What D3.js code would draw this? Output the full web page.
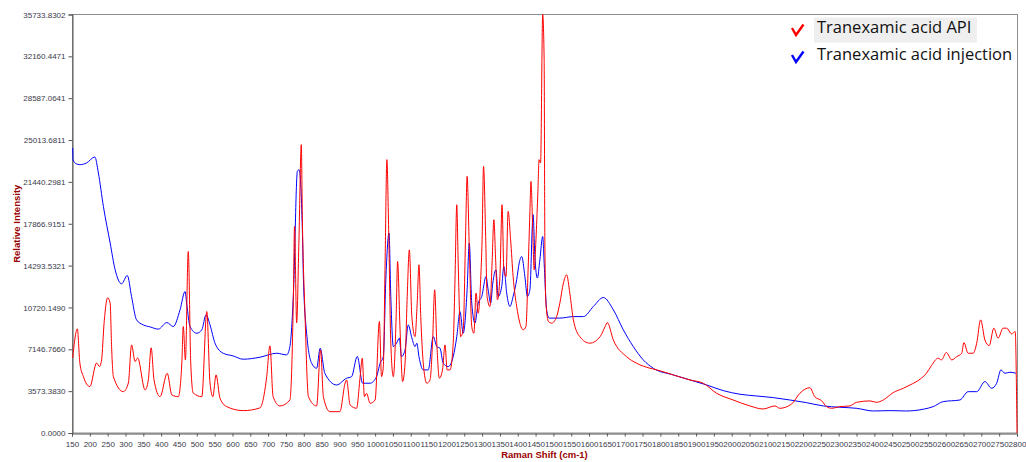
<!DOCTYPE html>
<html>
<head>
  <meta charset="utf-8">
  <title>Raman spectra</title>
  <script src="https://d3js.org/d3.v7.min.js"></script>
  <style>
    body { margin: 0; background: #fff; }
  </style>
</head>
<body>
  <svg width="1026" height="462"></svg>

  <script>
    // Raman shift (cm-1) and intensity for the API sample
    const apiShift = [152,165,172,182,200,219,227,233,240,250,257,261,266,294,308,317,327,334,355,364,372,380,397,417,430,448,458,462,468,476,483,490,514,528,537,545,554,565,584,630,677,696,705,714,733,761,771,774,780,786,793,796,803,813,836,847,855,873,901,916,920,930,948,958,964,970,976,986,1000,1012,1018,1023,1028,1033,1038,1044,1051,1059,1063,1070,1077,1084,1090,1096,1103,1112,1118,1123,1128,1135,1145,1154,1161,1167,1173,1180,1189,1196,1202,1210,1219,1224,1229,1233,1240,1247,1254,1258,1264,1271,1277,1283,1289,1296,1300,1304,1310,1314,1322,1328,1333,1338,1343,1350,1356,1361,1367,1373,1380,1387,1397,1406,1415,1423,1429,1434,1437,1442,1446,1451,1456,1460,1464,1470,1474,1476,1479,1486,1495,1509,1518,1528,1537,1546,1556,1574,1602,1631,1645,1651,1668,1705,1733,1771,1790,1836,1883,1920,1958,2004,2051,2088,2121,2135,2168,2191,2219,2233,2252,2266,2280,2303,2331,2350,2388,2406,2425,2453,2481,2500,2528,2546,2560,2579,2588,2602,2617,2631,2645,2651,2663,2677,2687,2698,2710,2722,2735,2747,2761,2771,2785,2795,2800];
    const apiIntensity = [6410,8890,5980,4810,3960,5980,5670,6240,9400,11540,11090,7380,4810,3530,4270,7520,6100,6410,3680,4530,7270,4530,3100,5100,3250,3100,5980,9090,6240,15500,5980,3420,3100,10370,4270,3100,4960,2970,2250,1910,2140,4810,7440,3100,2310,2820,11940,17640,9400,15930,24620,18210,10520,3100,2310,7100,3100,1820,1820,4270,4530,2390,2110,4810,6390,3100,3390,2540,2820,9520,4810,5670,14510,23340,17350,7670,4810,9940,14640,8810,4390,5960,11650,15640,9940,8230,11090,14360,9940,5960,4250,4530,7670,12230,7670,4680,5390,7520,5390,5390,7670,13080,19490,14510,8230,8810,17350,21910,15930,9090,8520,11940,10230,13080,16500,22770,16780,11650,10800,14510,18210,14790,11370,13360,19490,13930,13360,18920,16500,13360,10800,9380,8810,9090,13930,18780,21480,17350,13930,16500,20200,23340,23060,35730,31890,16220,11090,9520,9380,9940,11090,12800,13510,11940,9660,8230,7670,8230,9090,9430,7950,6520,5960,5530,5390,4960,4530,4250,3390,2820,2310,2050,2310,2110,2480,3390,3870,3100,2760,2250,2110,2250,2310,2620,2740,2620,2820,3450,3820,4100,4590,5100,5750,6390,6240,6870,6240,6520,6810,7720,6810,6810,7670,9660,7950,7460,8950,8100,8950,8950,8460,8660,0];

    // Raman shift (cm-1) and intensity for the injection sample
    const injShift = [152,153,161,172,191,214,224,238,257,271,289,305,317,331,350,369,392,416,434,453,467,472,481,500,514,526,537,551,574,602,630,677,724,752,761,771,782,787,796,799,808,822,836,846,859,892,920,934,950,965,986,1004,1014,1023,1030,1039,1044,1051,1060,1068,1074,1084,1093,1103,1112,1117,1123,1135,1149,1163,1173,1182,1191,1205,1219,1229,1238,1247,1258,1264,1271,1280,1289,1299,1311,1317,1324,1330,1339,1345,1355,1361,1369,1378,1387,1397,1404,1411,1420,1427,1434,1443,1448,1455,1462,1470,1474,1481,1488,1518,1556,1584,1612,1640,1668,1696,1724,1752,1780,1836,1883,1930,1976,2023,2070,2117,2163,2210,2257,2303,2350,2397,2444,2490,2537,2565,2593,2640,2663,2687,2710,2729,2743,2755,2766,2780,2797];
    const injIntensity = [24340,23340,23000,22910,23060,23570,22200,19350,16220,13930,12740,13450,11650,9660,9230,9060,8870,9430,9090,10520,12080,10940,9090,8520,8810,10090,9230,7670,6810,6580,6300,6470,6810,6670,7380,11940,22340,22480,17350,13080,8520,5960,5530,7240,5100,4100,4680,4810,6540,4250,4250,4810,5960,6520,13080,17070,11650,7380,7670,8100,6520,7100,9230,8120,7380,7670,6520,5390,5390,8230,7380,7240,5960,5670,6520,8230,10370,8520,12230,16220,11090,9380,11090,11650,13360,12230,11090,12800,13930,11650,12510,14220,11940,10800,11650,13080,14510,15070,13360,11650,12230,18640,15070,13230,14790,16780,14510,10520,9810,9810,9940,9940,10800,11570,10520,8810,7380,6240,5530,4960,4530,4100,3620,3310,3160,3020,2820,2590,2310,2200,2110,1880,1910,1880,2030,2250,2680,2820,3530,3530,4390,3820,4250,5390,5100,5190,5100];

    const seriesNames = ["Tranexamic acid API", "Tranexamic acid injection"];
    const seriesColors = ["#ff0000", "#0000ff"];

    const yTicks = [0, 3573.3830, 7146.7660, 10720.1490, 14293.5321, 17866.9151, 21440.2981, 25013.6811, 28587.0641, 32160.4471, 35733.8302];
    const xTicks = [150,200,250,300,350,400,450,500,550,600,650,700,750,800,850,900,950,1000,1050,1100,1150,1200,1250,1300,1350,1400,1450,1500,1550,1600,1650,1700,1750,1800,1850,1900,1950,2000,2050,2100,2150,2200,2250,2300,2350,2400,2450,2500,2550,2600,2650,2700,2750,2800];

    const plotLeft = 72, plotRight = 1017, plotTop = 14.5, plotBottom = 433;

    const svg = d3.select("svg");

    const x = d3.scaleLinear().domain([150, 2800]).range([plotLeft, plotRight]);
    const y = d3.scaleLinear().domain([0, 35733.8302]).range([plotBottom, plotTop]);

    // frame
    svg.append("rect")
      .attr("x", plotLeft + 0.5).attr("y", plotTop)
      .attr("width", plotRight - plotLeft).attr("height", plotBottom - plotTop)
      .attr("fill", "none").attr("stroke", "#8c8c8c").attr("stroke-width", 1);

    // y axis
    const yAxis = svg.append("g")
      .attr("transform", "translate(" + (plotLeft + 0.5) + ",0)")
      .call(d3.axisLeft(y).tickValues(yTicks).tickSize(4).tickPadding(3)
        .tickFormat(d => d.toFixed(4)));
    yAxis.select(".domain").attr("stroke", "#555");
    yAxis.selectAll(".tick line").attr("stroke", "#555");
    yAxis.selectAll("text")
      .style("font-family", "Liberation Sans, Arial, sans-serif")
      .style("font-size", "8px")
      .attr("fill", "#3a3a4a");

    // x axis
    const xAxis = svg.append("g")
      .attr("transform", "translate(0," + (plotBottom + 0.5) + ")")
      .call(d3.axisBottom(x).tickValues(xTicks).tickSize(3).tickPadding(5)
        .tickFormat(d3.format("d")));
    xAxis.select(".domain").attr("stroke", "#555");
    xAxis.selectAll(".tick line").attr("stroke", "#555");
    xAxis.selectAll("text")
      .style("font-family", "Liberation Sans, Arial, sans-serif")
      .style("font-size", "8px")
      .attr("fill", "#3a3a4a");

    // axis titles
    svg.append("text")
      .attr("x", (plotLeft + plotRight) / 2).attr("y", 458)
      .attr("text-anchor", "middle")
      .style("font-family", "Liberation Sans, Arial, sans-serif")
      .style("font-size", "9.5px").style("font-weight", "bold")
      .attr("fill", "#990000")
      .text("Raman Shift (cm-1)");

    svg.append("text")
      .attr("transform", "translate(20," + (plotTop + plotBottom) / 2 + ") rotate(-90)")
      .attr("text-anchor", "middle")
      .style("font-family", "Liberation Sans, Arial, sans-serif")
      .style("font-size", "9.5px").style("font-weight", "bold")
      .attr("fill", "#990000")
      .text("Relative Intensity");

    // spectra
    const series = [
      apiShift.map((s, i) => [s, apiIntensity[i]]),
      injShift.map((s, i) => [s, injIntensity[i]])
    ];
    const line = d3.line()
      .x(d => x(d[0]))
      .y(d => y(d[1]))
      .curve(d3.curveMonotoneX);

    // draw injection first so API sits on top
    [1, 0].forEach(k => {
      svg.append("path")
        .datum(series[k])
        .attr("fill", "none")
        .attr("stroke", seriesColors[k])
        .attr("stroke-width", 1)
        .attr("d", line);
    });

    // legend
    const legend = svg.append("g");
    legend.append("rect")
      .attr("x", 814).attr("y", 17.5)
      .attr("width", 163).attr("height", 25)
      .attr("fill", "#efefef");

    seriesNames.forEach((name, i) => {
      const cy = 30 + i * 27;
      legend.append("path")
        .attr("d", "M792," + (cy - 2) + " L796," + (cy + 5) + " L803.5," + (cy - 5.5))
        .attr("fill", "none")
        .attr("stroke", seriesColors[i])
        .attr("stroke-width", 2.4)
        .attr("stroke-linejoin", "miter");
      legend.append("text")
        .attr("x", 817).attr("y", cy + 3)
        .style("font-family", "Open Sans, Noto Sans, sans-serif")
        .style("font-size", "16.5px")
        .attr("fill", "#111")
        .text(name);
    });
  </script>
</body>
</html>
